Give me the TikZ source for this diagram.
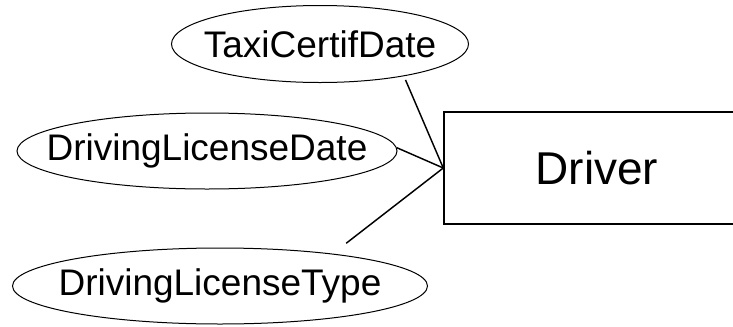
\documentclass[tikz,border=0pt]{standalone}
\usepackage{fontspec}
\setmainfont{Liberation Sans}
\usetikzlibrary{shapes.geometric}

\tikzset{every picture/.style={line width=0.75pt}}
\tikzset{
  attrib/.style={draw={rgb, 255:red, 0; green, 0; blue, 0}, ellipse, inner xsep=-40pt, inner ysep=0pt, font=\fontsize{27.75}{30}\selectfont},
  entity/.style={draw={rgb, 255:red, 0; green, 0; blue, 0}, line width=1.1pt, rectangle, minimum width=229.5pt, minimum height=84pt, font=\fontsize{34.5}{40}\selectfont},
  link/.style={color={rgb, 255:red, 0; green, 0; blue, 0}, line width=1.1pt}
}

\begin{document}
\begin{tikzpicture}[x=0.75pt,y=0.75pt,yscale=-1,xscale=1]
        %set diagram left start at 0, and has height of 326
        \clip (0,0) rectangle (733,326);
        
        %Shape: Rectangle [id:drv] 
        \node[entity] (drv) at (597,168) {Driver};
        %Shape: Ellipse [id:tcd] 
        \node[attrib, minimum width=222.75pt, minimum height=57.75pt] (tcd) at (320,44) {TaxiCertifDate};
        %Shape: Ellipse [id:dld] 
        \node[attrib, minimum width=285pt, minimum height=57pt] (dld) at (207,151) {DrivingLicenseDate};
        %Shape: Ellipse [id:dlt] 
        \node[attrib, minimum width=311.25pt, minimum height=57pt] (dlt) at (220,286) {DrivingLicenseType};
        
        %Straight Lines [id:l1] 
        \draw[link, shorten >=3pt] (drv.west) -- (tcd.-21) ;
        %Straight Lines [id:l2] 
        \draw[link] (drv.west) -- (dld.1) ;
        %Straight Lines [id:l3] 
        \draw[link, shorten >=12.75pt] (drv.west) -- (dlt.16) ;
\end{tikzpicture}
\end{document}
